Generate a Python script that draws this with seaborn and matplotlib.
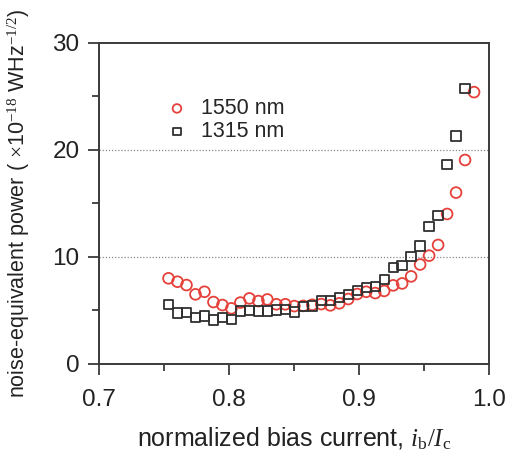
import numpy as np
import pandas as pd
import matplotlib
matplotlib.use("Agg")
import matplotlib.pyplot as plt
import seaborn as sns
from matplotlib.ticker import MultipleLocator

# ---- data ----
x_start = 0.7534
x_step = 0.00691
nep_1550 = [7.98, 7.66, 7.35, 6.48, 6.72, 5.76, 5.48, 5.17, 5.71, 6.10,
            5.85, 6.00, 5.55, 5.55, 5.38, 5.40, 5.50, 5.57, 5.45, 5.64,
            6.04, 6.51, 6.72, 6.60, 6.80, 7.32, 7.50, 8.16, 9.27, 10.10,
            11.10, 14.00, 16.00, 19.05, 25.40]
nep_1315 = [5.55, 4.73, 4.76, 4.33, 4.45, 4.07, 4.31, 4.14, 4.92, 4.95,
            4.92, 4.92, 5.00, 5.07, 4.82, 5.32, 5.38, 5.88, 5.90, 6.18,
            6.45, 6.85, 7.13, 7.20, 7.88, 8.97, 9.15, 10.00, 11.00, 12.83,
            13.87, 18.65, 21.30, 25.77]
labels = ["1550 nm", "1315 nm"]

x_1550 = [x_start + i * x_step for i in range(len(nep_1550))]
x_1315 = [x_start + i * x_step for i in range(len(nep_1315))]

df = pd.DataFrame({
    "x": x_1550 + x_1315,
    "nep": nep_1550 + nep_1315,
    "wl": [labels[0]] * len(nep_1550) + [labels[1]] * len(nep_1315),
})

sns.set_theme(style="white")
plt.rcParams["font.family"] = ["Liberation Sans", "DejaVu Sans"]
plt.rcParams["mathtext.fontset"] = "custom"
plt.rcParams["mathtext.it"] = "Liberation Serif:italic"
plt.rcParams["mathtext.rm"] = "Liberation Serif"

fig = plt.figure(figsize=(5.08, 4.62), dpi=100)
ax = fig.add_axes([0.195, 0.213, 0.768, 0.694])

red = "#e5413a"
dark = "#2f2f2f"

d1 = df[df.wl == labels[0]]
d2 = df[df.wl == labels[1]]
sns.scatterplot(data=d1, x="x", y="nep", ax=ax, marker="o", s=60,
                facecolors="none", edgecolor=red, linewidth=1.3,
                label=labels[0], zorder=3)
sns.scatterplot(data=d2, x="x", y="nep", ax=ax, marker="s", s=45,
                facecolors="none", edgecolor=dark, linewidth=1.3,
                label=labels[1], zorder=4)

for yv in [10, 20]:
    ax.axhline(yv, color="#888888", lw=0.9, ls=(0, (1, 1.5)), zorder=1)

ax.set_xlim(0.7, 1.0)
ax.set_ylim(0, 30)
ax.xaxis.set_major_locator(MultipleLocator(0.1))
ax.xaxis.set_minor_locator(MultipleLocator(0.05))
ax.yaxis.set_major_locator(MultipleLocator(10))
ax.yaxis.set_minor_locator(MultipleLocator(5))
ax.set_xticks([0.7, 0.8, 0.9, 1.0])
ax.set_xticklabels(["0.7", "0.8", "0.9", "1.0"])

for sp in ax.spines.values():
    sp.set_color("#3a3a3a")
    sp.set_linewidth(1.4)

ax.tick_params(axis="both", which="major", direction="out", length=8,
               width=1.3, color="#3a3a3a", labelsize=17.5, colors="#222222",
               bottom=True, left=True)
ax.tick_params(axis="both", which="minor", direction="out", length=5,
               width=1.3, color="#3a3a3a", bottom=True, left=True)
ax.tick_params(axis="x", which="major", pad=10)
ax.tick_params(axis="y", which="major", pad=6)

ax.set_xlabel(r"normalized bias current, $i_{\mathrm{b}}/I_{\mathrm{c}}$",
              fontsize=18, color="#222222", labelpad=11)
ax.set_ylabel(r"noise-equivalent power ( $\times$10$^{-18}$ WHz$^{-1/2}$)",
              fontsize=15.5, color="#222222", labelpad=15)

leg = ax.legend(loc="upper left", bbox_to_anchor=(0.15, 0.855), frameon=False,
                fontsize=15.5, handletextpad=0.6, borderaxespad=0,
                labelspacing=0.1, markerscale=0.8, handlelength=1.0)

fig.savefig("out.png", dpi=100)
